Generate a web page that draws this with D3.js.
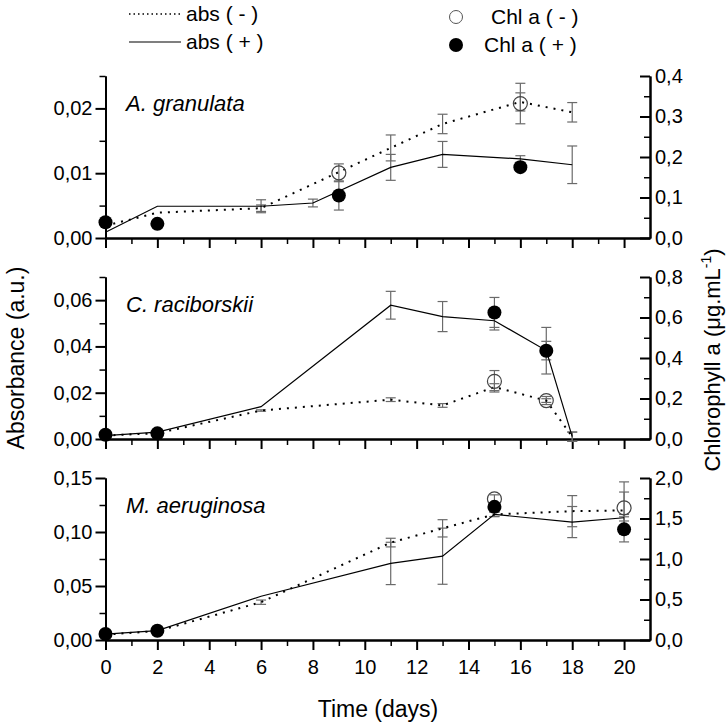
<!DOCTYPE html>
<html>
<head>
<meta charset="utf-8">
<script src="https://cdn.jsdelivr.net/npm/d3@7/dist/d3.min.js"></script>
<style>
  body { margin: 0; background: #fff; }
  svg { font-family: Arial, "Liberation Sans", sans-serif; }
</style>
</head>
<body>
<div id="chart"></div>
<script>
// panel names
var species = ["A. granulata", "C. raciborskii", "M. aeruginosa"];

// A. granulata
var agMinusDays = [0, 2, 6, 11, 13, 16, 18];
var agAbsMinus = [0.0019, 0.0039, 0.0046, 0.0139, 0.0176, 0.0210, 0.0194];
var agAbsMinusErr = [0, 0, 0.0005, 0.0020, 0.0015, 0.0014, 0.0015];
var agPlusDays = [0, 2, 6, 8, 11, 13, 16, 18];
var agAbsPlus = [0.0009, 0.0049, 0.0049, 0.0054, 0.0109, 0.0129, 0.0122, 0.0113];
var agAbsPlusErr = [0, 0, 0.0010, 0.0006, 0.0020, 0.0020, 0.0005, 0.0029];
var agChlMinusDays = [9, 16];
var agChlMinus = [0.161, 0.332];
var agChlMinusErr = [0.022, 0.050];
var agChlPlusDays = [0, 2, 9, 16];
var agChlPlus = [0.039, 0.035, 0.105, 0.175];
var agChlPlusErr = [0, 0, 0.036, 0];

// C. raciborskii
var crMinusDays = [0, 2, 6, 11, 13, 15, 17, 18];
var crAbsMinus = [0.0015, 0.0025, 0.0123, 0.0170, 0.0145, 0.0224, 0.0166, 0.0010];
var crAbsMinusErr = [0, 0, 0.0003, 0.0008, 0.0008, 0.0015, 0.0008, 0.0020];
var crPlusDays = [0, 2, 6, 11, 13, 15, 17, 18];
var crAbsPlus = [0.0015, 0.0030, 0.0140, 0.0578, 0.0529, 0.0511, 0.0382, 0.0010];
var crAbsPlusErr = [0, 0, 0, 0.0060, 0.0065, 0.0040, 0.0040, 0.0020];
var crChlMinusDays = [15, 17];
var crChlMinus = [0.285, 0.190];
var crChlMinusErr = [0.053, 0.020];
var crChlPlusDays = [0, 2, 15, 17];
var crChlPlus = [0.021, 0.028, 0.625, 0.436];
var crChlPlusErr = [0, 0, 0.074, 0.115];

// M. aeruginosa
var maMinusDays = [0, 2, 6, 11, 13, 15, 18, 20];
var maAbsMinus = [0.0050, 0.0083, 0.0350, 0.0902, 0.1034, 0.1163, 0.1193, 0.1200];
var maAbsMinusErr = [0, 0, 0.0020, 0.0040, 0.0080, 0.0020, 0.0144, 0.0170];
var maPlusDays = [0, 2, 6, 11, 13, 15, 18, 20];
var maAbsPlus = [0.0055, 0.0087, 0.0405, 0.0709, 0.0776, 0.1163, 0.1092, 0.1132];
var maAbsPlusErr = [0, 0, 0, 0.0196, 0.0260, 0.0020, 0.0144, 0.0030];
var maChlMinusDays = [15, 20];
var maChlMinus = [1.742, 1.632];
var maChlMinusErr = [0.05, 0.32];
var maChlPlusDays = [0, 2, 15, 20];
var maChlPlus = [0.074, 0.115, 1.644, 1.366];
var maChlPlusErr = [0, 0, 0.03, 0.155];

// axes
var leftMax = [0.025, 0.07, 0.15];
var leftStep = [0.01, 0.02, 0.05];
var rightMax = [0.4, 0.8, 2.0];
var rightStep = [0.1, 0.2, 0.5];
var dayTicks = [0, 2, 4, 6, 8, 10, 12, 14, 16, 18, 20];

function zip(days, vals, errs) {
    return days.map(function(d, i) { return {day: d, v: vals[i], e: errs[i]}; });
}

var panels = [
    {name: species[0], minus: zip(agMinusDays, agAbsMinus, agAbsMinusErr), plus: zip(agPlusDays, agAbsPlus, agAbsPlusErr),
     chlMinus: zip(agChlMinusDays, agChlMinus, agChlMinusErr), chlPlus: zip(agChlPlusDays, agChlPlus, agChlPlusErr)},
    {name: species[1], minus: zip(crMinusDays, crAbsMinus, crAbsMinusErr), plus: zip(crPlusDays, crAbsPlus, crAbsPlusErr),
     chlMinus: zip(crChlMinusDays, crChlMinus, crChlMinusErr), chlPlus: zip(crChlPlusDays, crChlPlus, crChlPlusErr)},
    {name: species[2], minus: zip(maMinusDays, maAbsMinus, maAbsMinusErr), plus: zip(maPlusDays, maAbsPlus, maAbsPlusErr),
     chlMinus: zip(maChlMinusDays, maChlMinus, maChlMinusErr), chlPlus: zip(maChlPlusDays, maChlPlus, maChlPlusErr)}
];

var W = 727, H = 727;
var tops = [76, 277, 478], ph = 162;

var svg = d3.select("#chart").append("svg")
    .attr("width", W)
    .attr("height", H)
    .style("background-color", "white");

var x = d3.scaleLinear().domain([0, 21]).range([105.5, 650]);

var comma = function(f) { return function(d) { return d3.format(f)(d).replace(".", ","); }; };

function styleAxis(g, w) {
    g.select(".domain").attr("stroke", "#000").attr("stroke-width", 2);
    g.selectAll(".tick line").attr("stroke", "#000").attr("stroke-width", w);
    g.selectAll(".tick text").attr("fill", "#000").style("font-size", "20px");
}

panels.forEach(function(p, i) {
    var g = svg.append("g").attr("transform", "translate(0," + tops[i] + ")");
    var y = d3.scaleLinear().domain([0, leftMax[i]]).range([ph, 0]);
    var y2 = d3.scaleLinear().domain([0, rightMax[i]]).range([ph, 0]);

    // minor ticks first
    var xMinor = d3.range(1, 21, 2);
    g.append("g").attr("transform", "translate(0," + ph + ")")
        .call(d3.axisBottom(x).tickValues(xMinor).tickSize(6).tickSizeOuter(0).tickFormat(""))
        .call(styleAxis, 1.5);
    g.append("g").attr("transform", "translate(" + x(0) + ",0)")
        .call(d3.axisLeft(y).tickValues(d3.range(leftStep[i] / 2, leftMax[i] + 1e-9, leftStep[i])).tickSize(6).tickSizeOuter(0).tickFormat(""))
        .call(styleAxis, 1.5);
    g.append("g").attr("transform", "translate(" + x(21) + ",0)")
        .call(d3.axisRight(y2).tickValues(d3.range(rightStep[i] / 2, rightMax[i], rightStep[i])).tickSize(-6).tickSizeOuter(0).tickFormat(""))
        .call(styleAxis, 1.5);

    // major ticks
    var xa = g.append("g").attr("transform", "translate(0," + ph + ")")
        .call(d3.axisBottom(x).tickValues(dayTicks).tickSize(10).tickSizeOuter(0).tickPadding(10)
            .tickFormat(i == 2 ? d3.format("d") : ""));
    xa.call(styleAxis, 2);
    g.append("g").attr("transform", "translate(" + x(0) + ",0)")
        .call(d3.axisLeft(y).tickValues(d3.range(0, leftMax[i] + 1e-9, leftStep[i])).tickSize(10).tickSizeOuter(0).tickPadding(3)
            .tickFormat(comma(".2f")))
        .call(styleAxis, 2);
    g.append("g").attr("transform", "translate(" + x(21) + ",0)")
        .call(d3.axisRight(y2).tickValues(d3.range(0, rightMax[i] + 1e-9, rightStep[i])).tickSize(-10).tickSizeOuter(0).tickPadding(5)
            .tickFormat(comma(".1f")))
        .call(styleAxis, 2);

    // species name
    g.append("text")
        .attr("x", 126)
        .attr("y", 35)
        .style("font-size", "22px")
        .style("font-style", "italic")
        .text(p.name);

    var line = d3.line().x(function(d) { return x(d.day); }).y(function(d) { return y(d.v); });

    // error bars
    function errBars(data, sc) {
        var eb = g.append("g").attr("stroke", "#6a6a6a").attr("stroke-width", 1.2);
        data.filter(function(d) { return d.e > 0; }).forEach(function(d) {
            var cx = x(d.day);
            eb.append("line").attr("x1", cx).attr("x2", cx).attr("y1", sc(d.v - d.e)).attr("y2", sc(d.v + d.e));
            [d.v - d.e, d.v + d.e].forEach(function(v) {
                eb.append("line").attr("x1", cx - 5).attr("x2", cx + 5).attr("y1", sc(v)).attr("y2", sc(v));
            });
        });
    }
    errBars(p.minus, y);
    errBars(p.plus, y);
    errBars(p.chlMinus, y2);
    errBars(p.chlPlus, y2);

    g.append("path").datum(p.minus)
        .attr("fill", "none").attr("stroke", "#000").attr("stroke-width", 2)
        .attr("stroke-dasharray", "2,6")
        .attr("d", line);
    g.append("path").datum(p.plus)
        .attr("fill", "none").attr("stroke", "#000").attr("stroke-width", 1.2)
        .attr("d", line);

    g.selectAll("circle.open").data(p.chlMinus).enter().append("circle")
        .attr("class", "open")
        .attr("cx", function(d) { return x(d.day); })
        .attr("cy", function(d) { return y2(d.v); })
        .attr("r", 7)
        .attr("fill", "none").attr("stroke", "#444").attr("stroke-width", 1.2);
    g.selectAll("circle.filled").data(p.chlPlus).enter().append("circle")
        .attr("class", "filled")
        .attr("cx", function(d) { return x(d.day); })
        .attr("cy", function(d) { return y2(d.v); })
        .attr("r", 7)
        .attr("fill", "#000");
});

// legend
var leg = svg.append("g").style("font-size", "21px");
leg.append("line").attr("x1", 129).attr("x2", 181).attr("y1", 14).attr("y2", 14)
    .attr("stroke", "#000").attr("stroke-width", 1.5).attr("stroke-dasharray", "1.5,3");
leg.append("text").attr("x", 186).attr("y", 21).text("abs ( - )");
leg.append("line").attr("x1", 129).attr("x2", 181).attr("y1", 42).attr("y2", 42)
    .attr("stroke", "#000").attr("stroke-width", 1.2);
leg.append("text").attr("x", 186).attr("y", 49).text("abs ( + )");
leg.append("circle").attr("cx", 456).attr("cy", 17).attr("r", 6.5)
    .attr("fill", "none").attr("stroke", "#555").attr("stroke-width", 1);
leg.append("text").attr("x", 491).attr("y", 24).text("Chl a ( - )");
leg.append("circle").attr("cx", 456).attr("cy", 45).attr("r", 7).attr("fill", "#000");
leg.append("text").attr("x", 484).attr("y", 52).text("Chl a ( + )");

// axis titles
svg.append("text")
    .attr("x", 378).attr("y", 717)
    .attr("text-anchor", "middle")
    .style("font-size", "23px")
    .text("Time (days)");
svg.append("text")
    .attr("transform", "translate(24,358) rotate(-90)")
    .attr("text-anchor", "middle")
    .style("font-size", "23px")
    .text("Absorbance (a.u.)");
var rt = svg.append("text")
    .attr("transform", "translate(720,360) rotate(-90)")
    .attr("text-anchor", "middle")
    .style("font-size", "22px");
rt.append("tspan").text("Chlorophyll a (\u03bcg.mL");
rt.append("tspan").attr("dy", -9).style("font-size", "14px").text("-1");
rt.append("tspan").attr("dy", 9).text(")");
</script>
</body>
</html>
